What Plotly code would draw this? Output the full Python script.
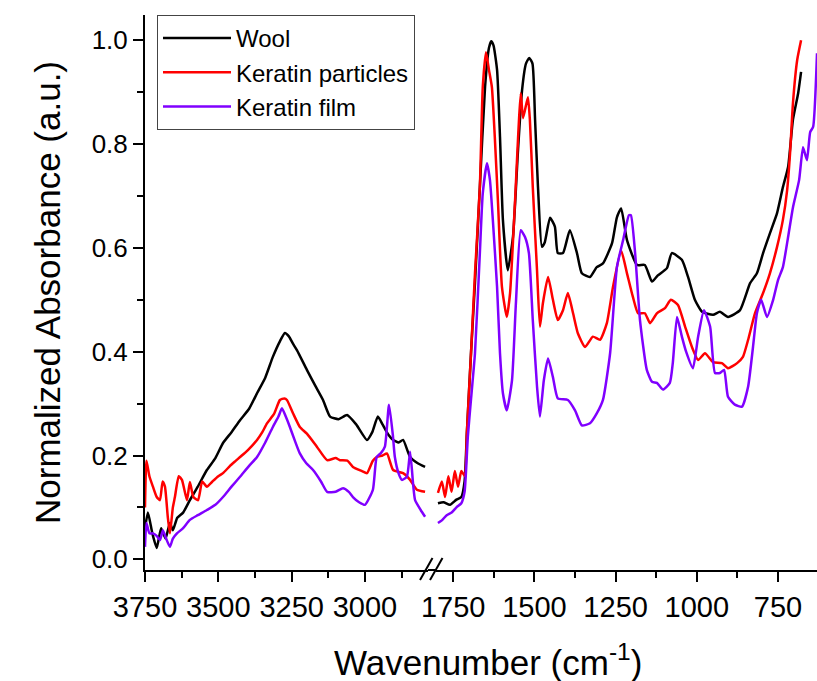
import plotly.graph_objects as go

# ---------------- data (wavenumber in cm^-1, normalized absorbance) ----------------
# High-wavenumber segment (3750 - 2795)
wool_hi_wn = [3750, 3740, 3725, 3710, 3695, 3680, 3665, 3655, 3640, 3620, 3597, 3570, 3539, 3510,
              3484, 3455, 3426, 3395, 3368, 3340, 3314, 3290, 3273, 3260, 3245, 3232, 3198, 3170,
              3143, 3119, 3090, 3061, 3030, 2993, 2975, 2956, 2940, 2920, 2904, 2885, 2870, 2846,
              2820, 2795]
wool_hi_ab = [0.06, 0.09, 0.05, 0.022, 0.06, 0.04, 0.07, 0.056, 0.08, 0.09, 0.114, 0.14, 0.172, 0.195,
              0.224, 0.245, 0.268, 0.29, 0.32, 0.35, 0.39, 0.42, 0.436, 0.43, 0.415, 0.403, 0.365, 0.335,
              0.307, 0.275, 0.27, 0.278, 0.26, 0.23, 0.245, 0.275, 0.26, 0.24, 0.23, 0.225, 0.23, 0.197,
              0.185, 0.178]

part_hi_wn = [3750, 3745, 3735, 3723, 3710, 3699, 3690, 3682, 3672, 3665, 3655, 3648, 3635, 3624,
              3607, 3597, 3585, 3569, 3555, 3539, 3520, 3500, 3484, 3460, 3440, 3426, 3400, 3368,
              3350, 3334, 3310, 3290, 3275, 3266, 3245, 3222, 3198, 3164, 3129, 3100, 3085, 3060,
              3041, 3010, 2993, 2973, 2960, 2940, 2925, 2904, 2870, 2846, 2823, 2795]
part_hi_ab = [0.10, 0.19, 0.16, 0.14, 0.12, 0.114, 0.15, 0.14, 0.08, 0.05, 0.10, 0.12, 0.16, 0.153,
              0.114, 0.149, 0.12, 0.114, 0.15, 0.14, 0.15, 0.16, 0.166, 0.18, 0.19, 0.197, 0.21, 0.23,
              0.245, 0.262, 0.28, 0.307, 0.31, 0.307, 0.281, 0.255, 0.242, 0.217, 0.191, 0.195, 0.191, 0.19,
              0.178, 0.17, 0.166, 0.19, 0.197, 0.20, 0.204, 0.172, 0.166, 0.153, 0.134, 0.13]

film_hi_wn = [3750, 3745, 3735, 3723, 3710, 3699, 3689, 3678, 3665, 3655, 3641, 3620, 3597, 3570,
              3539, 3510, 3484, 3455, 3426, 3395, 3368, 3340, 3314, 3295, 3283, 3270, 3256, 3240,
              3222, 3200, 3177, 3150, 3129, 3100, 3075, 3055, 3041, 3020, 3000, 2973, 2960, 2945,
              2932, 2918, 2905, 2898, 2885, 2874, 2857, 2846, 2835, 2829, 2810, 2795]
film_hi_ab = [0.024, 0.07, 0.05, 0.05, 0.045, 0.037, 0.056, 0.04, 0.024, 0.04, 0.05, 0.06, 0.076, 0.085,
              0.095, 0.105, 0.12, 0.14, 0.159, 0.18, 0.197, 0.225, 0.255, 0.275, 0.291, 0.275, 0.255, 0.23,
              0.204, 0.185, 0.172, 0.15, 0.13, 0.13, 0.137, 0.13, 0.12, 0.11, 0.105, 0.134, 0.197, 0.205,
              0.217, 0.298, 0.24, 0.197, 0.165, 0.153, 0.159, 0.207, 0.14, 0.114, 0.095, 0.082]

# Fingerprint segment (1797 - 630)
wool_lo_wn = [1797, 1780, 1760, 1740, 1725, 1715, 1708, 1695, 1683, 1668, 1652, 1640, 1633, 1626, 1615,
              1606, 1597, 1582, 1566, 1551, 1538, 1526, 1516, 1506, 1498, 1489, 1477, 1468, 1452, 1437,
              1428, 1412, 1391, 1369, 1354, 1329, 1308, 1289, 1261, 1246, 1233, 1215, 1184, 1160,
              1138, 1120, 1092, 1077, 1046, 1027, 1006, 984, 950, 929, 904, 867, 836, 815, 796, 775,
              753, 735, 719, 704, 688, 679]
wool_lo_ab = [0.108, 0.11, 0.105, 0.115, 0.12, 0.15, 0.243, 0.40, 0.533, 0.717, 0.91, 0.985, 0.998, 0.99, 0.943,
              0.814, 0.654, 0.557, 0.621, 0.783, 0.904, 0.955, 0.966, 0.955, 0.847, 0.717, 0.602, 0.611, 0.658, 0.641,
              0.59, 0.59, 0.634, 0.59, 0.551, 0.544, 0.563, 0.57, 0.609, 0.659, 0.676, 0.615, 0.567, 0.567,
              0.535, 0.547, 0.561, 0.59, 0.577, 0.544, 0.50, 0.477, 0.471, 0.477, 0.467, 0.48, 0.532, 0.551, 0.59, 0.628,
              0.667, 0.717, 0.756, 0.847, 0.898, 0.939]

part_lo_wn = [1797, 1785, 1775, 1765, 1755, 1745, 1735, 1725, 1714, 1708, 1695, 1683, 1668, 1659,
              1649, 1640, 1631, 1622, 1612, 1600, 1585, 1575, 1560, 1542, 1535, 1520, 1514, 1505,
              1492, 1483, 1474, 1458, 1443, 1428, 1412, 1397, 1381, 1366, 1344, 1320, 1298, 1277,
              1258, 1233, 1215, 1197, 1181, 1160, 1144, 1123, 1098, 1080, 1058, 1036, 1015, 996,
              975, 950, 923, 904, 876, 858, 842, 821, 796, 775, 753, 735, 722, 713, 704, 691, 679]
part_lo_ab = [0.128, 0.15, 0.12, 0.16, 0.13, 0.17, 0.14, 0.17, 0.16, 0.243, 0.40, 0.551, 0.717, 0.91,
              0.977, 0.943, 0.91, 0.814, 0.686, 0.525, 0.467, 0.513, 0.686, 0.898, 0.85, 0.89, 0.847, 0.717,
              0.557, 0.448, 0.493, 0.544, 0.50, 0.461, 0.48, 0.513, 0.474, 0.435, 0.409, 0.429, 0.423, 0.455,
              0.525, 0.595, 0.551, 0.506, 0.474, 0.474, 0.455, 0.474, 0.484, 0.50, 0.49, 0.448, 0.409, 0.384,
              0.397, 0.38, 0.378, 0.368, 0.378, 0.39, 0.423, 0.474, 0.513, 0.551, 0.602, 0.654, 0.711, 0.782,
              0.879, 0.962, 1.0]

film_lo_wn = [1797, 1785, 1770, 1755, 1740, 1725, 1715, 1705, 1695, 1683, 1668, 1659, 1646, 1637,
              1628, 1615, 1606, 1597, 1585, 1569, 1557, 1542, 1529, 1517, 1505, 1492, 1483, 1471,
              1458, 1443, 1428, 1397, 1375, 1354, 1329, 1308, 1289, 1267, 1246, 1227, 1209, 1203,
              1190, 1175, 1154, 1138, 1123, 1104, 1083, 1074, 1061, 1046, 1033, 1012, 996, 978, 959,
              944, 929, 916, 904, 883, 861, 842, 827, 815, 802, 784, 765, 750, 735, 719, 704, 685,
              673, 661, 651, 642, 630]
film_lo_ab = [0.07, 0.075, 0.085, 0.09, 0.10, 0.108, 0.13, 0.236, 0.31, 0.397, 0.59, 0.705, 0.763, 0.731,
              0.654, 0.525, 0.397, 0.32, 0.287, 0.345, 0.493, 0.634, 0.621, 0.59, 0.461, 0.333, 0.275, 0.345,
              0.387, 0.351, 0.31, 0.307, 0.287, 0.258, 0.262, 0.281, 0.307, 0.397, 0.563, 0.615, 0.663, 0.663,
              0.59, 0.461, 0.365, 0.342, 0.34, 0.327, 0.34, 0.378, 0.467, 0.429, 0.40, 0.368, 0.429, 0.48, 0.448,
              0.359, 0.359, 0.365, 0.313, 0.298, 0.294, 0.333, 0.409, 0.474, 0.50, 0.467, 0.50, 0.538, 0.563,
              0.621, 0.678, 0.731, 0.794, 0.769, 0.823, 0.833, 0.975]

series_names = ["Wool", "Keratin particles", "Keratin film"]
series_colors = ["#000000", "#ff0000", "#8000ff"]

hi_x_ticks = [3750, 3500, 3250, 3000]
lo_x_ticks = [1750, 1500, 1250, 1000, 750]
y_ticks = [0.0, 0.2, 0.4, 0.6, 0.8, 1.0]

# ---------------- figure ----------------
FONT = "Liberation Sans, Arial, sans-serif"
fig = go.Figure()

hi_data = [(wool_hi_wn, wool_hi_ab), (part_hi_wn, part_hi_ab), (film_hi_wn, film_hi_ab)]
lo_data = [(wool_lo_wn, wool_lo_ab), (part_lo_wn, part_lo_ab), (film_lo_wn, film_lo_ab)]

line_style = dict(width=2.5, shape="spline", smoothing=0.5)
for (x, y), name, col in zip(hi_data, series_names, series_colors):
    fig.add_trace(go.Scatter(x=x, y=y, mode="lines", name=name, legendgroup=name,
                             line=dict(color=col, **line_style), xaxis="x", yaxis="y"))
for (x, y), name, col in zip(lo_data, series_names, series_colors):
    fig.add_trace(go.Scatter(x=x, y=y, mode="lines", name=name, legendgroup=name, showlegend=False,
                             line=dict(color=col, **line_style), xaxis="x2", yaxis="y"))

L, R, T, B = 145, 0, 15, 111
W, H = 817, 681
pw = W - L - R
plot_h = H - T - B
d1_end = (428 - L) / pw
d2_start = (436 - L) / pw

axis_common = dict(showline=True, linecolor="black", linewidth=2, ticks="outside", ticklen=10,
                   tickwidth=2, tickcolor="black", showgrid=False, zeroline=False,
                   tickfont=dict(family=FONT, size=29, color="black"),
                   minor=dict(ticks="outside", ticklen=6, tickwidth=2, tickcolor="black", dtick=125,
                              showgrid=False))

fig.update_layout(
    width=W, height=H,
    margin=dict(l=L, r=R, t=T, b=B),
    paper_bgcolor="white", plot_bgcolor="white",
    font=dict(family=FONT, color="black"),
    xaxis=dict(domain=[0, d1_end], range=[3750, 2785], tickvals=hi_x_ticks, **axis_common),
    xaxis2=dict(domain=[d2_start, 1], range=[1803, 630], tickvals=lo_x_ticks, anchor="y", **axis_common),
    yaxis=dict(range=[-0.0206, 1.0487], tickvals=y_ticks, tickformat=".1f",
               showline=True, linecolor="black", linewidth=2, ticks="outside", ticklen=10,
               tickwidth=2, tickcolor="black", showgrid=False, zeroline=False,
               tickfont=dict(family=FONT, size=26, color="black"),
               minor=dict(ticks="outside", ticklen=6, tickwidth=2, tickcolor="black", dtick=0.1,
                          showgrid=False),
               title=dict(text="Normalized Absorbance (a.u.)", font=dict(family=FONT, size=35, color="black"),
                          standoff=20)),
    showlegend=True,
    legend=dict(x=12 / pw, y=1, xanchor="left", yanchor="top", bgcolor="white",
                bordercolor="#444444", borderwidth=1, font=dict(family=FONT, size=24, color="black"),
                itemwidth=68, tracegroupgap=0),
)


def px_to_paper_x(px):
    return (px - L) / pw


def py_to_paper_y(py):
    return (H - B - py) / plot_h


# axis title shared by both x segments
fig.add_annotation(text="Wavenumber (cm<sup>-1</sup>)", xref="paper", yref="paper",
                   x=px_to_paper_x(488), y=py_to_paper_y(660), xanchor="center", yanchor="middle",
                   showarrow=False, font=dict(family=FONT, size=35, color="black"))

# axis-break connector and "//" marks
fig.add_shape(type="line", xref="paper", yref="paper",
              x0=px_to_paper_x(428), x1=px_to_paper_x(436), y0=0, y1=0,
              line=dict(color="black", width=2))
for x0 in (420, 430):
    fig.add_shape(type="line", xref="paper", yref="paper",
                  x0=px_to_paper_x(x0), y0=py_to_paper_y(580),
                  x1=px_to_paper_x(x0 + 12.5), y1=py_to_paper_y(558),
                  line=dict(color="black", width=2))

fig.write_html("out.html", config={"displayModeBar": False},
               post_script="document.body.style.margin='0px';document.body.style.overflow='hidden';")
